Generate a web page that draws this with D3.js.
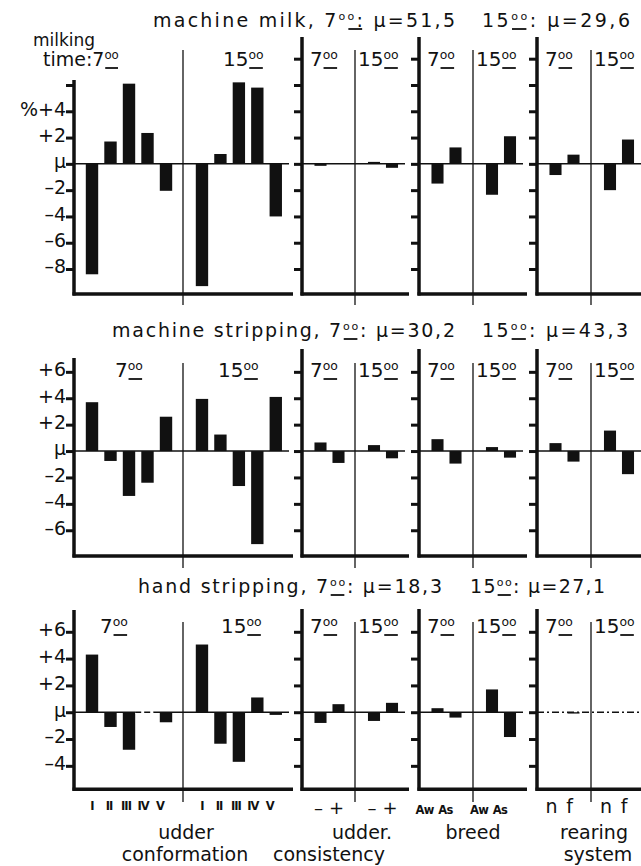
<!DOCTYPE html>
<html>
<head>
<meta charset="utf-8">
<script src="https://cdn.jsdelivr.net/npm/d3@7"></script>
<style>
  body { margin: 0; background: #fff; }
  svg { display: block; }
  text { font-family: "DejaVu Sans", sans-serif; fill: #111; }
</style>
</head>
<body>
<svg id="chart" width="641" height="866"></svg>
<script>
// ---- data ----
const sectionNames = ["machine  milk", "machine stripping", "hand stripping"];
const sectionMeans = [[51.5, 29.6], [30.2, 43.3], [18.3, 27.1]];
const timeLabels = ["7", "15"];

const conformationCats = ["I", "II", "III", "IV", "V"];
const consistencyCats = ["–", "+"];
const breedCats = ["Aw", "As"];
const rearingCats = ["n", "f"];

// deviation from μ in %, [7°° , 15°°]
const milkConformation = [[-8.4, 1.7, 6.1, 2.35, -2.05], [-9.3, 0.75, 6.2, 5.8, -4.0]];
const milkConsistency = [[-0.15, 0.05], [0.15, -0.3]];
const milkBreed = [[-1.5, 1.25], [-2.35, 2.1]];
const milkRearing = [[-0.85, 0.7], [-2.0, 1.85]];

const stripConformation = [[3.7, -0.75, -3.4, -2.4, 2.6], [3.95, 1.25, -2.65, -7.05, 4.1]];
const stripConsistency = [[0.65, -0.9], [0.45, -0.55]];
const stripBreed = [[0.9, -0.95], [0.3, -0.5]];
const stripRearing = [[0.6, -0.8], [1.55, -1.75]];

const handConformation = [[4.3, -1.1, -2.8, 0, -0.75], [5.05, -2.35, -3.7, 1.1, -0.2]];
const handConsistency = [[-0.8, 0.6], [-0.65, 0.7]];
const handBreed = [[0.3, -0.4], [1.7, -1.85]];
const handRearing = [[0, -0.1], [0, 0]];

const milkTicks = [-8, -6, -4, -2, 0, 2, 4, 6, 8];
const milkTickLabels = ["–8", "–6", "–4", "–2", "μ", "+2", "%+4", "", ""];
const stripTicks = [-6, -4, -2, 0, 2, 4, 6];
const stripTickLabels = ["–6", "–4", "–2", "μ", "+2", "+4", "+6"];
const handTicks = [-4, -2, 0, 2, 4, 6];
const handTickLabels = ["–4", "–2", "μ", "+2", "+4", "+6"];

const groupTitles = [["udder", "conformation"], ["udder.", "consistency"], ["breed"], ["rearing", "system"]];

// ---- layout ----
const svg = d3.select("#chart");
const ink = "#111";

const panels = [
  { cats: conformationCats, axis: 74, sep: 183, right: 293, bands: [[82.75, 175.25], [192.75, 285]] },
  { cats: consistencyCats, axis: 302, sep: 355, right: 409 },
  { cats: breedCats, axis: 419, sep: 473, right: 527 },
  { cats: rearingCats, axis: 537, sep: 591, right: 645 }
];
panels.forEach(p => {
  if (!p.bands) p.bands = [[p.axis + 9.5, p.axis + 45.5], [p.sep + 10, p.sep + 46]];
});

const sections = [
  { data: [milkConformation, milkConsistency, milkBreed, milkRearing], ticks: milkTicks, tickLabels: milkTickLabels,
    domain: [-9.9, 9.65], bottom: 294, top: 37, p1top: 80, titleY: 27, labelY: 66, sepTop: 50, sepBot: 305,
    titleA: [153, 455], titleB: [482, 630], p1labels: [null, 223] },
  { data: [stripConformation, stripConsistency, stripBreed, stripRearing], ticks: stripTicks, tickLabels: stripTickLabels,
    domain: [-7.95, 7.73], bottom: 556, top: 349, p1top: 358, titleY: 337, labelY: 377, sepTop: 363, sepBot: 568,
    titleA: [112, 455], titleB: [482, 628], p1labels: [115, 218] },
  { data: [handConformation, handConsistency, handBreed, handRearing], ticks: handTicks, tickLabels: handTickLabels,
    domain: [-5.75, 7.7], bottom: 789.3, top: 609, p1top: 610, titleY: 593, labelY: 633, sepTop: 622, sepBot: 802,
    titleA: [138, 442], titleB: [470, 605], p1labels: [100, 221] }
];

const fmtMean = v => d3.format(".1f")(v).replace(".", ",");

// text with "^" standing for the raised, underlined "oo" of the hour mark
function hourText(sel, x, y, str, size, len, supScale = 0.58) {
  const t = sel.append("text").attr("x", x).attr("y", y).attr("font-size", size);
  const rise = size * 0.36;
  const parts = str.split("^");
  const supAt = [];
  let n = 0, raised = false;
  parts.forEach((p, i) => {
    if (i > 0) {
      t.append("tspan").attr("font-size", size * supScale).attr("dy", -rise).text("oo");
      supAt.push(n); n += 2; raised = true;
    }
    if (p) {
      t.append("tspan").attr("dy", raised ? rise : 0).text(p);
      n += p.length; raised = false;
    }
  });
  if (len) t.attr("textLength", len).attr("lengthAdjust", "spacing");
  const node = t.node();
  supAt.forEach(k => {
    const a = node.getStartPositionOfChar(k), b = node.getEndPositionOfChar(k + 1);
    sel.append("line").attr("x1", a.x + 0.8).attr("x2", b.x - 0.8)
      .attr("y1", y + 2).attr("y2", y + 2)
      .attr("stroke", ink).attr("stroke-width", 1.8);
  });
  return t;
}

sections.forEach((sec, s) => {
  const y = d3.scaleLinear().domain(sec.domain).range([sec.bottom, sec.top]);
  const g = svg.append("g");

  // section title
  hourText(g, sec.titleA[0], sec.titleY, `${sectionNames[s]}, 7^: μ=${fmtMean(sectionMeans[s][0])}`, 19, sec.titleA[1] - sec.titleA[0]);
  hourText(g, sec.titleB[0], sec.titleY, `15^: μ=${fmtMean(sectionMeans[s][1])}`, 19, sec.titleB[1] - sec.titleB[0]);

  panels.forEach((pan, p) => {
    const pg = g.append("g");
    const topY = p === 0 ? sec.p1top : sec.top;

    // separator between 7°° and 15°°
    pg.append("line").attr("x1", pan.sep).attr("x2", pan.sep)
      .attr("y1", sec.sepTop).attr("y2", sec.sepBot)
      .attr("stroke", ink).attr("stroke-width", 1.3);

    // bars
    sec.data[p].forEach((vals, gi) => {
      const band = d3.scaleBand().domain(pan.cats).range(pan.bands[gi])
        .paddingInner(0.33).paddingOuter(0.165);
      pg.selectAll(null).data(vals.map((v, i) => ({ v, c: pan.cats[i] })))
        .join("rect")
        .attr("x", d => band(d.c))
        .attr("width", band.bandwidth())
        .attr("y", d => y(Math.max(0, d.v)))
        .attr("height", d => Math.abs(y(d.v) - y(0)))
        .attr("fill", ink);

      // bottom category labels (only under the last section)
      if (s === sections.length - 1) {
        pan.cats.forEach((c, ci) => {
          const cx = band(c) + band.bandwidth() / 2;
          const t = pg.append("text").attr("text-anchor", "middle").text(c);
          if (p === 0) {
            t.attr("x", cx - ci * 1.5).attr("y", 810).attr("font-family", "DejaVu Serif").attr("font-weight", "bold")
              .attr("font-size", 11.5).attr("letter-spacing", -1);
          } else if (p === 1) {
            t.attr("x", cx - 2).attr("y", 814).attr("font-size", 18);
          } else if (p === 2) {
            t.attr("x", cx - 13 + ci * 3).attr("y", 814).attr("font-family", "Liberation Sans")
              .attr("font-weight", "bold").attr("font-size", 11.5).attr("letter-spacing", -0.7);
          } else {
            t.attr("x", cx - 4).attr("y", 813).attr("font-size", 19);
          }
        });
      }

      // zero-value slots in conformation drawn as a broken line
      if (p === 0) {
        vals.forEach((v, i) => {
          if (v !== 0) return;
          const x0 = band(pan.cats[i]) - band.step() * 0.33, x1 = x0 + band.step();
          pg.append("line").attr("x1", x0).attr("x2", x1).attr("y1", y(0)).attr("y2", y(0))
            .attr("stroke", "#fff").attr("stroke-width", 3);
          pg.append("line").attr("x1", x0).attr("x2", x1).attr("y1", y(0)).attr("y2", y(0))
            .attr("stroke", ink).attr("stroke-width", 1.5).attr("stroke-dasharray", "6,3");
        });
      }
    });

    // zero line (μ)
    const dashed = s === 2 && p === 3;
    const zl = pg.insert("line", ":first-child").attr("x1", pan.axis).attr("x2", pan.right - 4)
      .attr("y1", y(0)).attr("y2", y(0))
      .attr("stroke", ink).attr("stroke-width", 1.5);
    if (dashed) zl.attr("stroke-dasharray", "7,3,2,3");

    // ticks
    const tv = sec.ticks.filter(t => y(t) > topY + 2);
    const ax = d3.axisLeft(y).tickValues(tv).tickSize(8).tickPadding(0)
      .tickFormat(p === 0 ? (d => sec.tickLabels[sec.ticks.indexOf(d)]) : "");
    const ag = pg.append("g").attr("transform", `translate(${pan.axis},0)`).call(ax);
    ag.select(".domain").remove();
    ag.selectAll(".tick line").attr("stroke", ink).attr("stroke-width", 3);
    ag.selectAll(".tick text").attr("dy", "0.2em").attr("font-size", 19)
      .attr("font-family", "DejaVu Sans").attr("fill", ink);

    // axes
    pg.append("line").attr("x1", pan.axis).attr("x2", pan.axis)
      .attr("y1", topY).attr("y2", sec.bottom + 1.5)
      .attr("stroke", ink).attr("stroke-width", 3.5);
    pg.append("line").attr("x1", pan.axis - 1.5).attr("x2", pan.right)
      .attr("y1", sec.bottom).attr("y2", sec.bottom)
      .attr("stroke", ink).attr("stroke-width", 3.5);

    // 7°° / 15°° labels
    if (p === 0) {
      if (s === 0) {
        g.append("text").attr("x", 33).attr("y", 46).attr("font-size", 17).text("milking");
        hourText(g, 43, sec.labelY, "time:7^", 19, null, 0.62);
      } else {
        hourText(g, sec.p1labels[0], sec.labelY, timeLabels[0] + "^", 20, null, 0.62);
      }
      hourText(g, sec.p1labels[1], sec.labelY, timeLabels[1] + "^", 20, null, 0.62);
    } else {
      hourText(g, pan.axis + 8, sec.labelY, timeLabels[0] + "^", 20, null, 0.62);
      hourText(g, pan.sep + 3, sec.labelY, timeLabels[1] + "^", 20, null, 0.62);
    }
  });
});

// group titles under the bottom row
const titleSpots = [[[186, 839], [185, 861]], [[362, 839], [329, 861]], [[473, 839]], [[594, 839], [598, 861]]];
groupTitles.forEach((lines, i) => {
  lines.forEach((ln, j) => {
    svg.append("text").attr("x", titleSpots[i][j][0]).attr("y", titleSpots[i][j][1])
      .attr("text-anchor", "middle").attr("font-size", 19).text(ln);
  });
});
</script>
</body>
</html>
